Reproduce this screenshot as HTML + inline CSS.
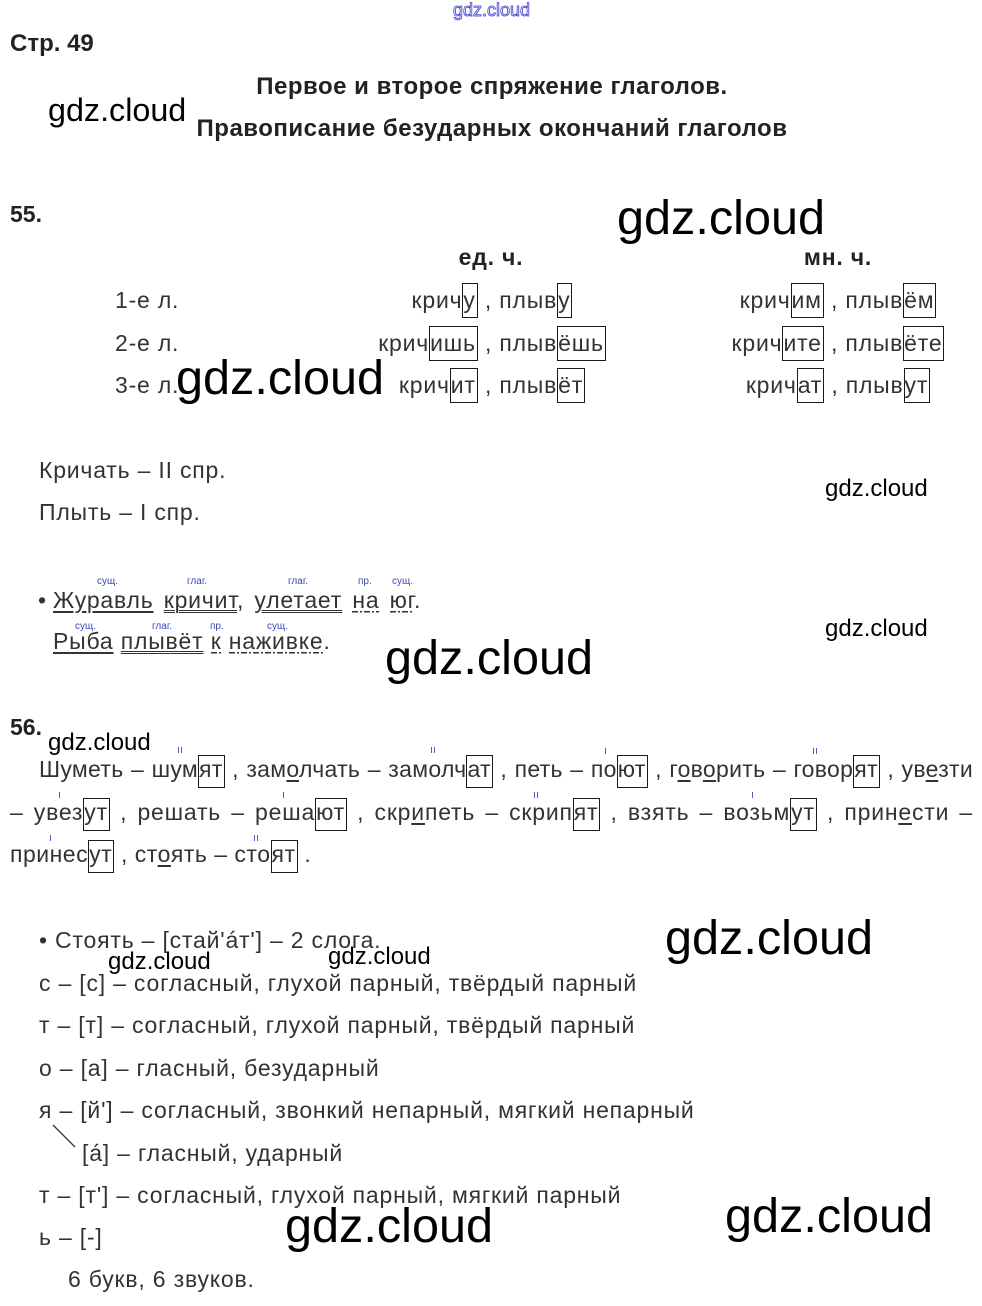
<!DOCTYPE html>
<html><head><meta charset="utf-8">
<style>
html,body{margin:0;padding:0;}
body{width:982px;height:1306px;background:#fff;position:relative;overflow:hidden;font-family:"Liberation Sans",Arial,sans-serif;color:#333;}
.t{position:absolute;white-space:nowrap;line-height:1;font-size:23px;letter-spacing:0.8px;}
.bd{font-weight:bold;color:#222;}
.h{position:absolute;white-space:nowrap;line-height:1;font-weight:bold;color:#222;}
.w{position:absolute;white-space:nowrap;line-height:1;color:#000;font-family:"Liberation Sans",sans-serif;letter-spacing:0;}
.w48{font-size:48.6px;}
.w24{font-size:24px;}
.b{border:1.5px solid #1a1a1a;padding:3px 1px 4px 0;}
.b2{border:1.5px solid #1a1a1a;padding:0 1px 5px 0;}
.c{text-align:center;}
.lab{position:absolute;white-space:nowrap;line-height:1;font-size:10px;color:#3a48b0;}
.u1{text-decoration:underline;text-decoration-thickness:1.5px;text-underline-offset:3px;}
.u2{text-decoration:underline double;text-decoration-thickness:1px;text-underline-offset:2px;}
.dd{background-image:repeating-linear-gradient(90deg,#333 0 6px,transparent 6px 8px,#333 8px 10px,transparent 10px 12px);background-repeat:no-repeat;background-size:100% 1.5px;background-position:0 100%;}
.uv{text-decoration:underline;text-decoration-thickness:1.5px;text-underline-offset:3px;}
.m{position:absolute;width:1px;height:6px;background:#5060b0;}
.j{text-align:justify;text-align-last:justify;}
</style></head>
<body>

<!-- header -->
<div class="w" style="left:453px;top:1px;font-size:18px;color:#fff;-webkit-text-stroke:0.8px #3a3ad0;">gdz.cloud</div>
<div class="h" style="left:10px;top:31.7px;font-size:24px;">Стр. 49</div>
<div class="h c" style="left:0;width:984px;top:74.7px;font-size:24px;letter-spacing:0.5px;">Первое и второе спряжение глаголов.</div>
<div class="h c" style="left:0;width:984px;top:116.7px;font-size:24px;letter-spacing:0.5px;">Правописание безударных окончаний глаголов</div>
<div class="w" style="left:48px;top:94.2px;font-size:32.3px;">gdz.cloud</div>

<!-- 55 -->
<div class="h" style="left:10px;top:202.5px;font-size:23px;">55.</div>
<div class="w w48" style="left:617px;top:194.3px;">gdz.cloud</div>
<div class="t bd c" style="left:391px;width:200px;top:245.5px;">ед. ч.</div>
<div class="t bd c" style="left:738px;width:200px;top:245.5px;">мн. ч.</div>

<div class="t" style="left:115px;top:288.5px;">1-е л.</div>
<div class="t" style="left:115px;top:331.5px;">2-е л.</div>
<div class="t" style="left:115px;top:373.5px;">3-е л.</div>

<div class="t c" style="left:342px;width:300px;top:288.5px;">крич<span class="b">у</span> , плыв<span class="b">у</span></div>
<div class="t c" style="left:342px;width:300px;top:331.5px;">крич<span class="b">ишь</span> , плыв<span class="b">ёшь</span></div>
<div class="t c" style="left:342px;width:300px;top:373.5px;">крич<span class="b">ит</span> , плыв<span class="b">ёт</span></div>

<div class="t c" style="left:688px;width:300px;top:288.5px;">крич<span class="b">им</span> , плыв<span class="b">ём</span></div>
<div class="t c" style="left:688px;width:300px;top:331.5px;">крич<span class="b">ите</span> , плыв<span class="b">ёте</span></div>
<div class="t c" style="left:688px;width:300px;top:373.5px;">крич<span class="b">ат</span> , плыв<span class="b">ут</span></div>

<div class="w w48" style="left:176px;top:354.3px;">gdz.cloud</div>

<div class="t" style="left:39px;top:458.5px;">Кричать – II спр.</div>
<div class="t" style="left:39px;top:500.5px;">Плыть – I спр.</div>
<div class="w w24" style="left:825px;top:477.2px;">gdz.cloud</div>

<!-- sentence -->
<div class="lab" style="left:97px;top:576.5px;">сущ.</div>
<div class="lab" style="left:187px;top:576.5px;">глаг.</div>
<div class="lab" style="left:288px;top:576.5px;">глаг.</div>
<div class="lab" style="left:358px;top:576.5px;">пр.</div>
<div class="lab" style="left:392px;top:576.5px;">сущ.</div>
<div class="t" style="left:38px;top:588.5px;">•</div>
<div class="t" style="left:53px;top:588.5px;word-spacing:3px;"><span class="u1">Журавль</span> <span class="u2">кричит</span>, <span class="u2">улетает</span> <span class="dd">на</span> <span class="dd">юг</span>.</div>

<div class="lab" style="left:75px;top:621.5px;">сущ.</div>
<div class="lab" style="left:152px;top:621.5px;">глаг.</div>
<div class="lab" style="left:210px;top:621.5px;">пр.</div>
<div class="lab" style="left:267px;top:621.5px;">сущ.</div>
<div class="t" style="left:53px;top:629.5px;"><span class="u1">Рыба</span> <span class="u2">плывёт</span> <span class="dd">к</span> <span class="dd">наживке</span>.</div>

<div class="w w24" style="left:825px;top:617.2px;">gdz.cloud</div>
<div class="w w48" style="left:385px;top:634.3px;">gdz.cloud</div>

<!-- 56 -->
<div class="h" style="left:10px;top:715.5px;font-size:23px;">56.</div>
<div class="w w24" style="left:48px;top:731px;">gdz.cloud</div>

<div class="t j" style="left:39px;width:934px;top:757.5px;letter-spacing:0.3px;">Шуметь – шум<span class="b2">ят</span> , зам<span class="uv">о</span>лчать – замолч<span class="b2">ат</span> , петь – по<span class="b2">ют</span> , г<span class="uv">о</span>в<span class="uv">о</span>рить – говор<span class="b2">ят</span> , ув<span class="uv">е</span>зти</div>
<div class="t j" style="left:10px;width:963px;top:800.5px;white-space:normal;">– увез<span class="b2">ут</span> , решать – реша<span class="b2">ют</span> , скр<span class="uv">и</span>петь – скрип<span class="b2">ят</span> , взять – возьм<span class="b2">ут</span> , прин<span class="uv">е</span>сти –</div>
<div class="t" style="left:10px;top:842.5px;letter-spacing:0.5px;">принес<span class="b2">ут</span> , ст<span class="uv">о</span>ять – сто<span class="b2">ят</span> .</div>

<!-- stress markers -->
<div class="m" style="left:178px;top:747px;"></div><div class="m" style="left:181px;top:747px;"></div>
<div class="m" style="left:431px;top:747px;"></div><div class="m" style="left:434px;top:747px;"></div>
<div class="m" style="left:605px;top:748px;"></div>
<div class="m" style="left:813px;top:748px;"></div><div class="m" style="left:816px;top:748px;"></div>
<div class="m" style="left:59px;top:792px;"></div>
<div class="m" style="left:283px;top:792px;"></div>
<div class="m" style="left:534px;top:792px;"></div><div class="m" style="left:537px;top:792px;"></div>
<div class="m" style="left:752px;top:792px;"></div>
<div class="m" style="left:50px;top:835px;"></div>
<div class="m" style="left:254px;top:835px;"></div><div class="m" style="left:257px;top:835px;"></div>

<!-- bottom -->
<div class="t" style="left:39px;top:928.5px;">• Стоять – [стай'áт'] – 2 слога.</div>
<div class="w w48" style="left:665px;top:914.3px;">gdz.cloud</div>
<div class="w w24" style="left:108px;top:950px;">gdz.cloud</div>
<div class="w w24" style="left:328px;top:945px;">gdz.cloud</div>

<div class="t" style="left:39px;top:971.5px;">с – [с] – согласный, глухой парный, твёрдый парный</div>
<div class="t" style="left:39px;top:1013.5px;">т – [т] – согласный, глухой парный, твёрдый парный</div>
<div class="t" style="left:39px;top:1056.5px;">о – [а] – гласный, безударный</div>
<div class="t" style="left:39px;top:1098.5px;">я – [й'] – согласный, звонкий непарный, мягкий непарный</div>
<svg style="position:absolute;left:0;top:0;" width="982" height="1306"><line x1="53" y1="1125" x2="75" y2="1147" stroke="#333" stroke-width="1.3"/></svg>
<div class="t" style="left:82px;top:1141.5px;">[á] – гласный, ударный</div>
<div class="t" style="left:39px;top:1183.5px;">т – [т'] – согласный, глухой парный, мягкий парный</div>
<div class="t" style="left:39px;top:1225.5px;">ь – [-]</div>
<div class="t" style="left:68px;top:1267.5px;">6 букв, 6 звуков.</div>

<div class="w w48" style="left:285px;top:1202.3px;">gdz.cloud</div>
<div class="w w48" style="left:725px;top:1192.3px;">gdz.cloud</div>

</body></html>
